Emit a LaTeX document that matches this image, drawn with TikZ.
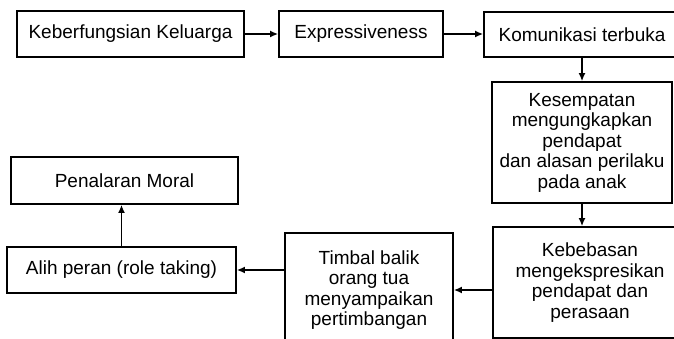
\documentclass[tikz,border=0pt]{standalone}
\usepackage{fontspec}
\setmainfont{Liberation Sans}
\usetikzlibrary{arrows.meta}
\tikzset{
	box/.style={draw, line width=1.7pt, align=center, inner sep=2pt,
		font=\fontsize{19}{20.5}\selectfont}
}
\begin{document}
\begin{tikzpicture}[x=1pt, y=-1pt, line width=1.7pt, >={Latex[length=8pt,width=7pt]}]
		\path[use as bounding box, clip] (0,0) rectangle (674,339);
		
		\node[box, minimum width=227pt, minimum height=46pt] (0) at (130.5,34) {Keberfungsian Keluarga};
		\node[box, minimum width=164pt, minimum height=46pt] (1) at (361,34) {Expressiveness};
		\node[box, minimum width=196pt, minimum height=45pt] (2) at (582,34.5) {Komunikasi terbuka};
		
		\node[box, minimum width=180pt, minimum height=121pt] (3) at (582,142.5) {Kesempatan\\mengungkapkan\\pendapat\\dan alasan perilaku\\pada anak};
		\node[box, minimum width=194pt, minimum height=111pt] (4) at (590,282.5) {Kebebasan\\mengekspresikan\\pendapat dan\\perasaan};
		
		\node[box, minimum width=168pt, minimum height=114pt] (5) at (369,290) {Timbal balik\\orang tua\\menyampaikan\\pertimbangan};
		\node[box, minimum width=229pt, minimum height=46pt] (6) at (121.5,270) {Alih peran (role taking)};
		\node[box, minimum width=227pt, minimum height=47pt] (7) at (124.5,180.5) {Penalaran Moral};
		
		\draw[->] (0) to (1);
		\draw[->] (1.east) to (1.east -| 2.west);
		\draw[->] (2) to (3);
		\draw[->] (3.south) to (3.south |- 4.north);
		\draw[->] (4.west |- 5.east) to (5.east);
		\draw[->] (5.west |- 6.east) to (6.east);
		\draw[->] (6.north) to (6.north |- 7.south);
	\end{tikzpicture}
\end{document}
